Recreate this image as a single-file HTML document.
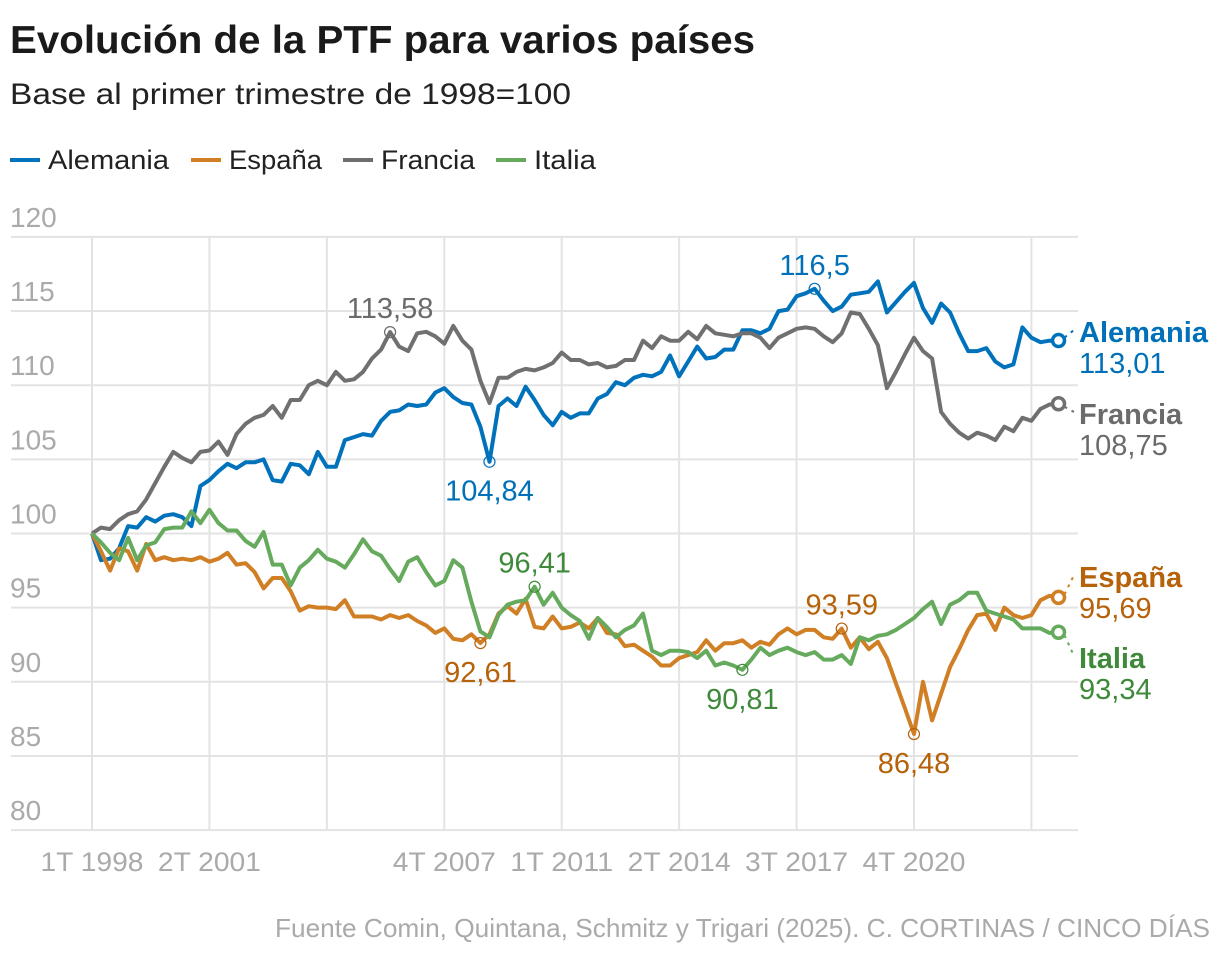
<!DOCTYPE html>
<html><head><meta charset="utf-8">
<style>
body{margin:0;background:#fff;width:1220px;height:958px;overflow:hidden;font-family:"Liberation Sans",sans-serif;}
svg text{font-family:"Liberation Sans",sans-serif;}
</style></head>
<body>
<svg id="chart" width="1220" height="958" viewBox="0 0 1220 958">
<text x="10" y="53" font-size="39" font-weight="bold" fill="#1a1a1a" textLength="745" lengthAdjust="spacingAndGlyphs">Evolución de la PTF para varios países</text>
<text x="10" y="104" font-size="30" fill="#222" textLength="561" lengthAdjust="spacingAndGlyphs">Base al primer trimestre de 1998=100</text>
<g>
<g><line x1="10" y1="160" x2="40" y2="160" stroke="#0072bc" stroke-width="4"/><text x="48" y="169" font-size="27" fill="#222" textLength="121" lengthAdjust="spacingAndGlyphs">Alemania</text></g>
<g><line x1="191" y1="160" x2="221" y2="160" stroke="#d07f25" stroke-width="4"/><text x="229" y="169" font-size="27" fill="#222" textLength="93" lengthAdjust="spacingAndGlyphs">España</text></g>
<g><line x1="343" y1="160" x2="373" y2="160" stroke="#6e6e6e" stroke-width="4"/><text x="381" y="169" font-size="27" fill="#222" textLength="94" lengthAdjust="spacingAndGlyphs">Francia</text></g>
<g><line x1="496" y1="160" x2="526" y2="160" stroke="#66aa5e" stroke-width="4"/><text x="534" y="169" font-size="27" fill="#222" textLength="62" lengthAdjust="spacingAndGlyphs">Italia</text></g>
</g>
<g id="grid"></g>
<g id="series"></g>
<g id="annot"></g>
<text x="1210" y="937" font-size="26" fill="#aaa" text-anchor="end" textLength="935" lengthAdjust="spacingAndGlyphs">Fuente Comin, Quintana, Schmitz y Trigari (2025). C. CORTINAS / CINCO DÍAS</text>
</svg>
<script>
const yTicks=[80,85,90,95,100,105,110,115,120];
const xTickIdx=[0,13,26,39,52,65,78,91,104];
const xTickLabels=["1T 1998","2T 2001","","4T 2007","1T 2011","2T 2014","3T 2017","4T 2020",""];
const alemania=[100,98.2,98.3,99,100.5,100.4,101.1,100.8,101.2,101.3,101.1,100.5,103.2,103.6,104.2,104.7,104.4,104.8,104.8,105,103.6,103.5,104.7,104.6,104,105.5,104.5,104.5,106.3,106.5,106.7,106.6,107.6,108.2,108.3,108.7,108.6,108.7,109.5,109.8,109.2,108.8,108.7,107.2,104.84,108.6,109.1,108.6,109.9,109,108,107.3,108.2,107.8,108.1,108.1,109.1,109.4,110.2,110,110.5,110.7,110.6,110.9,112,110.6,111.6,112.6,111.8,111.9,112.4,112.4,113.7,113.7,113.5,113.8,115,115.1,116,116.2,116.5,115.7,115,115.3,116.1,116.2,116.3,117,114.9,115.6,116.3,116.9,115.2,114.2,115.5,114.9,113.5,112.3,112.3,112.5,111.6,111.2,111.4,113.9,113.2,112.9,113,113.01];
const francia=[100,100.4,100.3,100.9,101.3,101.5,102.3,103.4,104.5,105.5,105.1,104.8,105.5,105.6,106.2,105.3,106.7,107.4,107.8,108,108.6,107.8,109,109,110,110.3,110,110.9,110.3,110.4,110.9,111.8,112.4,113.58,112.6,112.3,113.5,113.6,113.3,112.8,114,113,112.4,110.3,108.8,110.5,110.5,110.9,111.1,111,111.2,111.5,112.2,111.7,111.7,111.4,111.5,111.2,111.3,111.7,111.7,113,112.5,113.3,113,113,113.6,113.1,114,113.5,113.4,113.3,113.5,113.5,113.2,112.5,113.2,113.5,113.8,113.9,113.8,113.3,112.9,113.5,114.9,114.8,113.8,112.7,109.8,110.9,112.1,113.2,112.3,111.8,108.2,107.4,106.8,106.4,106.8,106.6,106.3,107.2,106.9,107.8,107.6,108.4,108.7,108.75];
const espana=[100,98.8,97.5,99,98.8,97.5,99.3,98.2,98.4,98.2,98.3,98.2,98.4,98.1,98.3,98.7,97.9,98,97.4,96.3,97,97,96.1,94.8,95.1,95,95,94.9,95.5,94.4,94.4,94.4,94.2,94.5,94.3,94.5,94.1,93.8,93.3,93.6,92.9,92.8,93.2,92.61,93.2,94.6,95.1,94.6,95.6,93.7,93.6,94.4,93.6,93.7,94,93.6,94.3,93.3,93.2,92.4,92.5,92.1,91.7,91.1,91.1,91.6,91.8,92,92.8,92.1,92.6,92.6,92.8,92.3,92.7,92.5,93.2,93.6,93.2,93.5,93.5,93,92.9,93.59,92.3,93,92.2,92.7,91.6,89.9,88.2,86.48,90,87.4,89.2,91,92.2,93.5,94.5,94.6,93.5,95,94.5,94.3,94.5,95.5,95.8,95.69];
const italia=[100,99.4,98.7,98.2,99.7,98.2,99.2,99.4,100.3,100.4,100.4,101.5,100.7,101.6,100.7,100.2,100.2,99.5,99.1,100.1,97.9,97.9,96.5,97.7,98.2,98.9,98.3,98.1,97.7,98.6,99.6,98.8,98.5,97.6,96.8,98.1,98.4,97.4,96.5,96.8,98.2,97.7,95.4,93.4,93,94.5,95.2,95.4,95.5,96.41,95.2,96,95,94.5,94.1,92.9,94.3,93.7,93,93.5,93.8,94.6,92.1,91.8,92.1,92.1,92,91.6,92.1,91.1,91.3,91.1,90.81,91.5,92.3,91.8,92.1,92.3,92,91.8,92,91.5,91.5,91.8,91.2,93,92.8,93.1,93.2,93.5,93.9,94.3,94.9,95.4,93.9,95.2,95.5,96,96,94.8,94.6,94.4,94.2,93.6,93.6,93.6,93.3,93.34];

const NS="http://www.w3.org/2000/svg";
const X=i=>92+i*(822/91);
const Y=v=>533.5-(v-100)*14.83;
function mk(tag,attrs,parent,txt){const e=document.createElementNS(NS,tag);for(const k in attrs)e.setAttribute(k,attrs[k]);if(txt!==undefined)e.textContent=txt;parent.appendChild(e);return e;}
const grid=document.getElementById('grid'),ser=document.getElementById('series'),ann=document.getElementById('annot');
yTicks.forEach(t=>{
  const l=mk('line',{x1:11,x2:1078,y1:Y(t),y2:Y(t),stroke:'#e3e3e3','stroke-width':2},grid);
  
  
  const tx=mk('text',{x:10,y:Y(t)-10,'font-size':28,fill:'#aaa'},grid,String(t));
  
  
});
xTickIdx.forEach((idx,k)=>{
  const l=mk('line',{x1:X(idx),x2:X(idx),y1:Y(120),y2:Y(80),stroke:'#e3e3e3','stroke-width':2},grid);
  
  
  if(xTickLabels[k]){
    const tx=mk('text',{x:X(idx),y:871,'font-size':27,fill:'#aaa','text-anchor':'middle',textLength:103,lengthAdjust:'spacingAndGlyphs'},grid,xTickLabels[k]);
    
    
  }
});
const S=[
 {name:'alemania',label:'Alemania',d:alemania,c:'#0072bc',tc:'#0070b8',ly:342},
 {name:'francia',label:'Francia',d:francia,c:'#707070',tc:'#6b6b6b',ly:424},
 {name:'espana',label:'España',d:espana,c:'#d07f25',tc:'#b5620a',ly:587},
 {name:'italia',label:'Italia',d:italia,c:'#66aa5e',tc:'#3e8a3a',ly:668}
];
S.forEach(s=>{
  const pts=s.d.map((v,i)=>X(i).toFixed(1)+','+Y(v).toFixed(1)).join(' ');
  const p=mk('polyline',{points:pts,fill:'none',stroke:s.c,'stroke-width':4,'stroke-linejoin':'round'},ser);
  
  
  const n=s.d.length-1,ex=X(n),ey=Y(s.d[n]);
  const c=mk('circle',{cx:ex,cy:ey,r:6,fill:'#fff',stroke:s.c,'stroke-width':3.5},ser);
  
  
  const dl=mk('line',{x1:ex+6,y1:ey+(s.ly-10-ey>0?3:-3),x2:1074,y2:s.ly-12,stroke:s.c,'stroke-width':2,'stroke-dasharray':'3,5'},ser);
  
  
  const t1=mk('text',{x:1079,y:s.ly,'font-size':29,'font-weight':'bold',fill:s.tc},ann,s.label);
  
  
  const t2=mk('text',{x:1079,y:s.ly+31,'font-size':29,fill:s.tc},ann,s.d[n].toFixed(2).replace('.',','));
  
  
});
const notes=[[francia,33,true,'#6b6b6b'],[alemania,44,false,'#0070b8'],[alemania,80,true,'#0070b8'],[italia,49,true,'#3e8a3a'],[espana,43,false,'#b5620a'],[italia,72,false,'#3e8a3a'],[espana,83,true,'#b5620a'],[espana,91,false,'#b5620a']];
notes.forEach(n=>{
  const [arr,i,up,col]=n;const x=X(i),y=Y(arr[i]);
  const c=mk('circle',{cx:x,cy:y,r:5.5,fill:'none',stroke:col,'stroke-width':1.2},ann);
  
  
  const t=mk('text',{x:x,y:up?y-14:y+39,'font-size':29,fill:col,'text-anchor':'middle'},ann,arr[i].toString().replace('.',','));
  
  
});
</script>
</body></html>
